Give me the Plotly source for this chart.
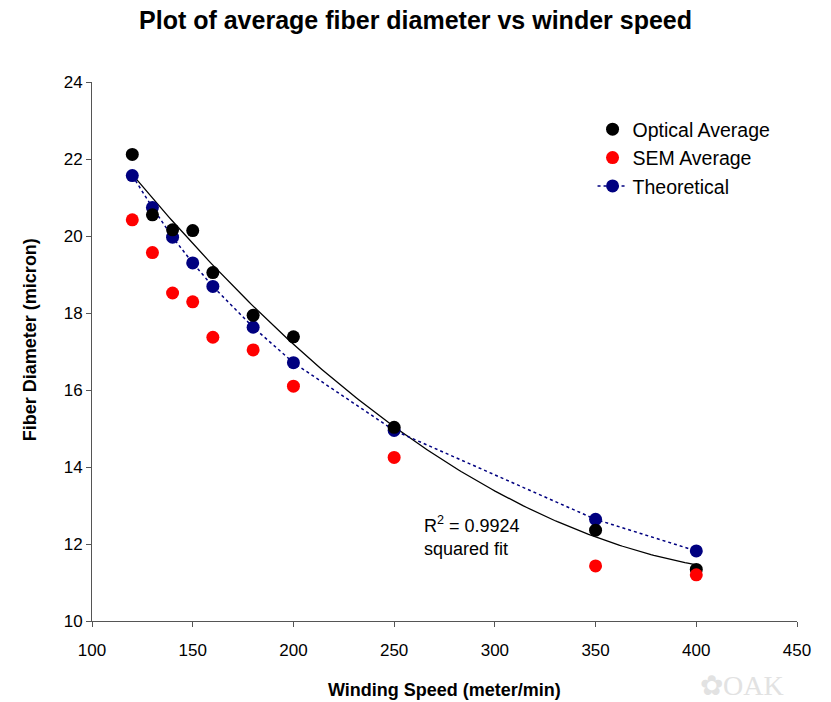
import numpy as np
import plotly.graph_objects as go

speed = [120, 130, 140, 150, 160, 180, 200, 250, 350, 400]
optical = [22.12, 20.55, 20.16, 20.14, 19.05, 17.94, 17.38, 15.03, 12.36, 11.34]
sem = [20.42, 19.57, 18.52, 18.29, 17.37, 17.04, 16.10, 14.25, 11.43, 11.20]
theoretical = [21.57, 20.74, 19.97, 19.30, 18.69, 17.63, 16.71, 14.95, 12.64, 11.82]

x_ticks = [100, 150, 200, 250, 300, 350, 400, 450]
y_ticks = [10, 12, 14, 16, 18, 20, 22, 24]

# second-order (squared) trendline of the optical data
coef = np.polyfit(speed, optical, 2)
fit_x = np.linspace(min(speed), max(speed), 200)
fit_y = np.polyval(coef, fit_x)

FONT = "Liberation Sans, Arial, sans-serif"

fig = go.Figure()
fig.add_trace(go.Scatter(x=fit_x, y=fit_y, mode="lines",
                         line=dict(color="black", width=1.3),
                         showlegend=False, hoverinfo="skip"))
fig.add_trace(go.Scatter(x=speed, y=theoretical, mode="lines+markers",
                         name="Theoretical",
                         line=dict(color="#000080", width=1.5, dash="dot"),
                         marker=dict(color="#000080", size=13), legendrank=3))
fig.add_trace(go.Scatter(x=speed, y=optical, mode="markers", name="Optical Average",
                         marker=dict(color="black", size=13), legendrank=1))
fig.add_trace(go.Scatter(x=speed, y=sem, mode="markers", name="SEM Average",
                         marker=dict(color="#FF0000", size=13), legendrank=2))

fig.update_layout(
    width=831, height=702,
    paper_bgcolor="white", plot_bgcolor="white",
    margin=dict(l=92, r=34, t=82, b=81),
    font=dict(family=FONT, color="black", size=17),
    title=dict(text="<b>Plot of average fiber diameter vs winder speed</b>",
               x=0.5, xanchor="center", y=1 - 20 / 702, yanchor="middle",
               font=dict(size=25, family=FONT)),
    legend=dict(x=0.71, y=0.948, xanchor="left", yanchor="top",
                font=dict(size=19.5, family=FONT), bgcolor="rgba(0,0,0,0)"),
    showlegend=True,
)
fig.update_xaxes(range=[100, 450], tickvals=x_ticks, showgrid=False, zeroline=False,
                 showline=True, linecolor="#555555", linewidth=1,
                 ticks="outside", ticklen=5, tickcolor="#555555",
                 tickfont=dict(size=17), ticklabelstandoff=9, automargin=False)
fig.update_yaxes(range=[10, 24], tickvals=y_ticks, showgrid=False, zeroline=False,
                 showline=True, linecolor="#555555", linewidth=1,
                 ticks="outside", ticklen=5, tickcolor="#555555",
                 tickfont=dict(size=17), automargin=False)

fig.add_annotation(x=0.5, y=-69 / 539, xref="paper", yref="paper",
                   xanchor="center", yanchor="middle", showarrow=False,
                   text="<b>Winding Speed (meter/min)</b>", font=dict(size=18, family=FONT))
fig.add_annotation(x=(30 - 92) / 705, y=0.521, xref="paper", yref="paper",
                   xanchor="center", yanchor="middle", showarrow=False, textangle=-90,
                   text="<b>Fiber Diameter (micron)</b>", font=dict(size=18, family=FONT))

fig.add_annotation(x=264, y=12.85, xref="x", yref="y", xanchor="left", yanchor="top",
                   align="left", showarrow=False,
                   text="R<sup>2</sup> = 0.9924<br>squared fit",
                   font=dict(size=18, family=FONT))
fig.add_annotation(x=0.984, y=-0.152, xref="paper", yref="paper", xanchor="right", yanchor="bottom",
                   showarrow=False, text="✿OAK",
                   font=dict(size=28, family="Liberation Serif, serif", color="#e2e2e2"))

fig.write_html("out.html", config={"displayModeBar": False},
               post_script="document.body.style.margin='0';")
